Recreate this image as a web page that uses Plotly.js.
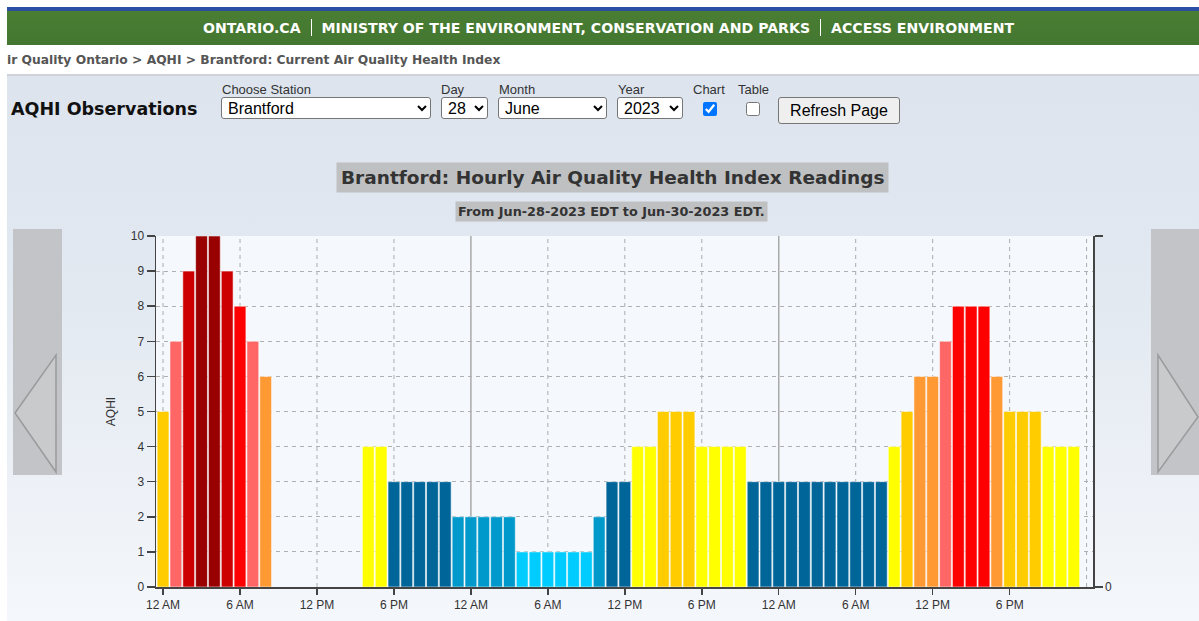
<!DOCTYPE html>
<html>
<head>
<meta charset="utf-8">
<script src="https://cdn.plot.ly/plotly-3.0.1.min.js"></script>
<style>
  html, body { margin:0; padding:0; width:1199px; height:621px; overflow:hidden; background:#fff; }
  #page { position:absolute; left:7px; top:0; width:1192px; height:621px; overflow:hidden;
          background:linear-gradient(to bottom,#ffffff 0px,#ffffff 76px,#dde4ee 76px,#e3e9f1 300px,#f4f7fb 621px); }
  #blue { position:absolute; left:0; top:7px; width:1192px; height:4px; background:#2b4fa3; }
  #green { position:absolute; left:0; top:11px; width:1192px; height:34px;
           background:linear-gradient(to bottom,#4a7e33,#437630); color:#fff;
           font-family:"DejaVu Sans",Verdana,sans-serif; font-weight:bold; font-size:14.1px;
           line-height:34px; }
  #green .t { position:absolute; left:196px; top:0; white-space:nowrap; }
  #green .sep { display:inline-block; width:1px; height:17px; background:#fff; vertical-align:-3px; margin:0 10px; }
  #crumb { position:absolute; left:0px; top:53px; font-family:"DejaVu Sans",Verdana,sans-serif;
           font-weight:bold; font-size:12.3px; color:#555; white-space:nowrap; }
  #rule { position:absolute; left:0; top:74px; width:1192px; height:2px; background:#cfd2d6; }
  #obs { position:absolute; left:4px; top:99px; font-family:"DejaVu Sans",Verdana,sans-serif;
         font-weight:bold; font-size:17.5px; color:#111; white-space:nowrap; }
  .lbl { position:absolute; font-family:"Liberation Sans",Arial,sans-serif; font-size:13px; color:#333; white-space:nowrap; }
  select { position:absolute; top:97px; height:22px; font-family:"Liberation Sans",Arial,sans-serif;
           font-size:16px; color:#000; background:#fff; border:1px solid #767676; border-radius:3px; padding:0 2px; margin:0; }
  input[type=checkbox] { position:absolute; top:102px; width:14px; height:14px; margin:0; accent-color:#0075ff; }
  button { position:absolute; left:771px; top:97px; width:122px; height:27px; font-family:"Liberation Sans",Arial,sans-serif;
           font-size:16px; color:#000; background:#efefef; border:1px solid #767676; border-radius:3px; padding:0; }
  #chart { position:absolute; left:0; top:135px; width:1199px; height:486px; }
  .nav { position:absolute; top:229px; width:49px; height:246px; background:#c2c4c7; }
</style>
</head>
<body>
<div id="page">
  <div id="blue"></div>
  <div id="green"><div class="t">ONTARIO.CA<span class="sep"></span>MINISTRY OF THE ENVIRONMENT, CONSERVATION AND PARKS<span class="sep"></span>ACCESS ENVIRONMENT</div></div>
  <div id="crumb">ir Quality Ontario &gt; AQHI &gt; Brantford: Current Air Quality Health Index</div>
  <div id="rule"></div>
  <div id="obs">AQHI Observations</div>
  <div class="lbl" style="left:215px;top:82px;">Choose Station</div>
  <div class="lbl" style="left:434px;top:82px;">Day</div>
  <div class="lbl" style="left:492px;top:82px;">Month</div>
  <div class="lbl" style="left:611px;top:82px;">Year</div>
  <div class="lbl" style="left:686px;top:82px;">Chart</div>
  <div class="lbl" style="left:731px;top:82px;">Table</div>
  <select style="left:214px;width:210px;"><option>Brantford</option></select>
  <select style="left:434px;width:47px;"><option>28</option></select>
  <select style="left:491px;width:109px;"><option>June</option></select>
  <select style="left:610px;width:66px;"><option>2023</option></select>
  <input type="checkbox" checked style="left:696px;">
  <input type="checkbox" style="left:739px;">
  <button>Refresh Page</button>
</div>
<div id="chart"></div>
<div class="nav" style="left:13px;">
  <svg width="49" height="246"><polygon points="2,184 43,126 43,243" fill="#c9cacc" stroke="#9a9b9d" stroke-width="1.5"/></svg>
</div>
<div class="nav" style="left:1151px;">
  <svg width="49" height="246"><polygon points="47,188 7,126 7,243" fill="#c9cacc" stroke="#9a9b9d" stroke-width="1.5"/></svg>
</div>
<script>
// Hours since 12 AM Jun-28-2023 EDT
const hours = [0,1,2,3,4,5,6,7,8,9,10,11,12,13,14,15,16,17,18,19,20,21,22,23,
               24,25,26,27,28,29,30,31,32,33,34,35,36,37,38,39,40,41,42,43,44,45,46,47,
               48,49,50,51,52,53,54,55,56,57,58,59,60,61,62,63,64,65,66,67,68,69,70,71];
// Hourly AQHI readings (null = no reading)
const aqhi = [5,7,9,10,10,9,8,7,6,null,null,null,null,null,null,null,4,4,3,3,3,3,3,2,
              2,2,2,2,1,1,1,1,1,1,2,3,3,4,4,5,5,5,4,4,4,4,3,3,
              3,3,3,3,3,3,3,3,3,4,5,6,6,7,8,8,8,6,5,5,5,4,4,4];
// AQHI colour scale, index = AQHI value
const aqhiColors = [null,'#00ccff','#0099cc','#006699','#ffff00','#ffcc00','#ff9933','#ff6666','#ff0000','#cc0000','#990000'];
const tickHours = [0,6,12,18,24,30,36,42,48,54,60,66];
const tickLabels = ['12 AM','6 AM','12 PM','6 PM','12 AM','6 AM','12 PM','6 PM','12 AM','6 AM','12 PM','6 PM'];
const gridHours = [0,6,12,18,30,36,42,54,60,66,72];
const dayStarts = [24,48];
const yTicks = [0,1,2,3,4,5,6,7,8,9,10];

const barColors = aqhi.map(v => v == null ? 'rgba(0,0,0,0)' : aqhiColors[v]);

const shapes = [];
gridHours.forEach(h => shapes.push({type:'line', xref:'x', yref:'paper', x0:h, x1:h, y0:0, y1:1,
  line:{color:'#ababab', width:1, dash:'4px,4px'}, layer:'below'}));
dayStarts.forEach(h => shapes.push({type:'line', xref:'x', yref:'paper', x0:h, x1:h, y0:0, y1:1,
  line:{color:'#a9a9a9', width:1.5}, layer:'below'}));

const traces = [
  {type:'bar', x:hours, y:aqhi, width:0.92,
   marker:{color:barColors, line:{color:'rgba(255,255,255,0.55)', width:1}},
   hoverinfo:'x+y', showlegend:false},
  {type:'scatter', mode:'markers', x:[0], y:[0], yaxis:'y2', marker:{opacity:0, size:1},
   hoverinfo:'skip', showlegend:false}
];

const layout = {
  width:1199, height:486,
  margin:{l:156, r:106, t:101, b:34},
  paper_bgcolor:'rgba(0,0,0,0)', plot_bgcolor:'#f5f9fd',
  font:{family:'"Liberation Sans", Arial, sans-serif', size:12, color:'#333'},
  bargap:0,
  xaxis:{range:[-0.55, 72.5], tickvals:tickHours, ticktext:tickLabels, showgrid:false, zeroline:false,
         ticks:'outside', ticklen:6, tickwidth:1.5, tickcolor:'#444', showline:true, linecolor:'#444', linewidth:1.5,
         tickfont:{size:12, color:'#333'}, fixedrange:true},
  yaxis:{range:[0,10], tickvals:yTicks, showgrid:true, gridcolor:'#b0b0b0', griddash:'4px,4px', gridwidth:1,
         zeroline:false, ticks:'outside', ticklen:8, tickwidth:1.5, tickcolor:'#444', showline:true, linecolor:'#444', linewidth:1.5,
         tickfont:{size:12, color:'#333'}, title:{text:'AQHI', font:{size:12, color:'#333'}, standoff:12}, fixedrange:true},
  yaxis2:{overlaying:'y', side:'right', range:[0,10], tickvals:[0,10], ticktext:['0',''], showgrid:false, zeroline:false,
          ticks:'outside', ticklen:8, tickwidth:1.5, tickcolor:'#444', showline:true, linecolor:'#444', linewidth:1.5,
          tickfont:{size:12, color:'#333'}, fixedrange:true},
  shapes:shapes,
  annotations:[
    {text:'<b>Brantford: Hourly Air Quality Health Index Readings</b>', xref:'paper', yref:'paper',
     x:0.4867, y:1.167, xanchor:'center', yanchor:'middle', showarrow:false, bgcolor:'#bfc0c2', borderpad:4,
     font:{family:'"DejaVu Sans", Verdana, sans-serif', size:18.5, color:'#333'}},
    {text:'<b>From Jun-28-2023 EDT to Jun-30-2023 EDT.</b>', xref:'paper', yref:'paper',
     x:0.4856, y:1.071, xanchor:'center', yanchor:'middle', showarrow:false, bgcolor:'#bfc0c2', borderpad:2,
     font:{family:'"DejaVu Sans", Verdana, sans-serif', size:12.8, color:'#333'}}
  ]
};
Plotly.newPlot('chart', traces, layout, {displayModeBar:false, staticPlot:true});
</script>
</body>
</html>
